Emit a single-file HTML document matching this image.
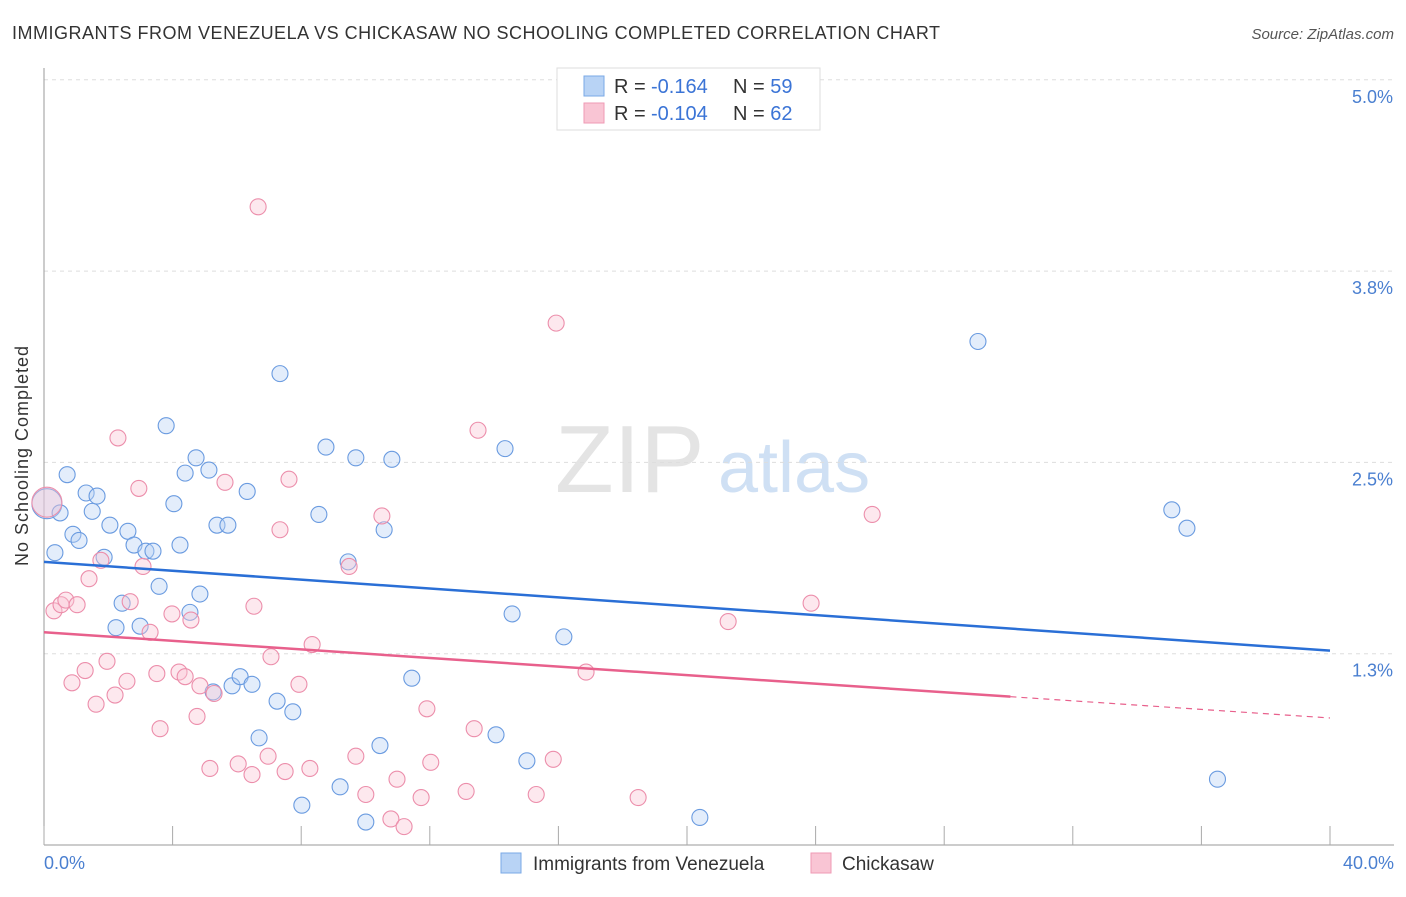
<!DOCTYPE html>
<html><head><meta charset="utf-8"><style>
body{margin:0;background:#fff;font-family:"Liberation Sans",sans-serif;}
svg text{font-family:"Liberation Sans",sans-serif;}
</style></head><body>
<svg width="1406" height="892" xmlns="http://www.w3.org/2000/svg">
<text x="12" y="39" font-size="18" fill="#333" textLength="928">IMMIGRANTS FROM VENEZUELA VS CHICKASAW NO SCHOOLING COMPLETED CORRELATION CHART</text>
<text x="1394" y="39" font-size="15" fill="#555" text-anchor="end" font-style="italic">Source: ZipAtlas.com</text>
<text x="555" y="492" font-size="96" fill="#e4e4e4" font-family="Liberation Serif">ZIP</text>
<text x="718" y="492" font-size="72" fill="#cfe0f4">atlas</text>
<g id="grid"></g>
<line x1="44" y1="68" x2="44" y2="845" stroke="#999"/>
<line x1="44" y1="845" x2="1394" y2="845" stroke="#999"/>
<g id="xticks"></g>
<text x="28" y="456" font-size="18" fill="#333" text-anchor="middle" textLength="220" transform="rotate(-90 28 456)">No Schooling Completed</text>
<text x="44" y="869" font-size="18" fill="#4a7fd0">0.0%</text>
<text x="1394" y="869" font-size="18" fill="#4a7fd0" text-anchor="end">40.0%</text>
<g id="pts"></g>
<g id="trend"></g>
<g>
<rect x="557" y="68" width="263" height="62" fill="#fff" stroke="#ddd"/>
<rect x="584" y="76" width="20" height="20" fill="#b8d3f5" stroke="#7aa8e6"/>
<rect x="584" y="103" width="20" height="20" fill="#f9c5d4" stroke="#ef9ab4"/>
<text x="614" y="93" font-size="20" fill="#333">R = <tspan x="651" fill="#3b74d6">-0.164</tspan><tspan x="733">N = </tspan><tspan fill="#3b74d6">59</tspan></text>
<text x="614" y="120" font-size="20" fill="#333">R = <tspan x="651" fill="#3b74d6">-0.104</tspan><tspan x="733">N = </tspan><tspan fill="#3b74d6">62</tspan></text>
</g>
<g>
<rect x="501" y="853" width="20" height="20" fill="#b8d3f5" stroke="#7aa8e6"/>
<text x="533" y="870" font-size="19" fill="#333">Immigrants from Venezuela</text>
<rect x="811" y="853" width="20" height="20" fill="#f9c5d4" stroke="#ef9ab4"/>
<text x="842" y="870" font-size="19" fill="#333">Chickasaw</text>
</g>
</svg>
<script>
const yTicks=[1.25,2.5,3.75,5.0];
const yTickLabels=["1.3%","2.5%","3.8%","5.0%"];
const xTicks=[0,4,8,12,16,20,24,28,32,36,40];
const blueX=[0.09,0.34,0.5,0.72,0.9,1.09,1.31,1.5,1.65,1.87,2.05,2.24,2.43,2.61,2.8,2.99,3.17,3.39,3.58,3.8,4.04,4.23,4.39,4.54,4.73,4.85,5.13,5.26,5.38,5.72,5.85,6.1,6.32,6.47,6.69,7.25,7.34,7.74,8.02,8.55,8.77,9.21,9.46,9.7,10.01,10.45,10.58,10.82,11.44,14.06,14.34,14.56,15.02,16.17,20.4,29.05,35.08,35.55,36.5];
const blueY=[2.23,1.91,2.17,2.42,2.03,1.99,2.3,2.18,2.28,1.88,2.09,1.42,1.58,2.05,1.96,1.43,1.92,1.92,1.69,2.74,2.23,1.96,2.43,1.52,2.53,1.64,2.45,1.0,2.09,2.09,1.04,1.10,2.31,1.05,0.7,0.94,3.08,0.87,0.26,2.16,2.6,0.38,1.85,2.53,0.15,0.65,2.06,2.52,1.09,0.72,2.59,1.51,0.55,1.36,0.18,3.29,2.19,2.07,0.43];
const pinkX=[0.09,0.31,0.53,0.68,0.87,1.03,1.28,1.4,1.62,1.77,1.96,2.21,2.3,2.58,2.68,2.95,3.08,3.3,3.51,3.61,3.98,4.2,4.39,4.57,4.76,4.85,5.16,5.29,5.63,6.04,6.47,6.53,6.66,6.97,7.06,7.34,7.5,7.62,7.93,8.27,8.34,9.49,9.7,10.01,10.51,10.79,10.98,11.2,11.73,11.91,12.03,13.13,13.38,13.5,15.31,15.84,15.93,16.86,18.48,21.28,23.86,25.76];
const pinkY=[2.24,1.53,1.57,1.60,1.06,1.57,1.14,1.74,0.92,1.86,1.20,0.98,2.66,1.07,1.59,2.33,1.82,1.39,1.12,0.76,1.51,1.13,1.10,1.47,0.84,1.04,0.50,0.99,2.37,0.53,0.46,1.56,4.17,0.58,1.23,2.06,0.48,2.39,1.05,0.50,1.31,1.82,0.58,0.33,2.15,0.17,0.43,0.12,0.31,0.89,0.54,0.35,0.76,2.71,0.33,0.56,3.41,1.13,0.31,1.46,1.58,2.16];
const blueTrend=[1.85,1.27];
const pinkTrend=[1.39,0.83];
const X0=44,X1=1330,Y0=845,YPX=191.3/1.25;
const sx=v=>X0+v/40*(X1-X0), sy=v=>Y0-v*YPX;
const NS="http://www.w3.org/2000/svg";
function mk(t,a,p){const e=document.createElementNS(NS,t);for(const k in a)e.setAttribute(k,a[k]);p.appendChild(e);return e;}
const grid=document.getElementById('grid');
yTicks.forEach((v,i)=>{
 const l=mk('line',{x1:44,x2:1394,y1:sy(v),y2:sy(v),stroke:'#ddd','stroke-dasharray':'4,4'},grid);
 
 
 const t=mk('text',{x:1393,y:sy(v)+23,'font-size':18,fill:'#4a7fd0','text-anchor':'end'},grid);
 t.textContent=yTickLabels[i];
 
 
});
const xt=document.getElementById('xticks');
xTicks.forEach(v=>{
 const l=mk('line',{x1:sx(v),x2:sx(v),y1:826,y2:845,stroke:'#aaa'},xt);
 
 
});
const pts=document.getElementById('pts');
function dots(xs,ys,fill,stroke,name){xs.forEach((x,i)=>{
 const r=i===0?15:8;
 const c=mk('circle',{cx:sx(x),cy:sy(ys[i]),r:r,fill:fill,'fill-opacity':0.4,stroke:stroke,'stroke-width':1.1},pts);
 
 
});}
dots(blueX,blueY,'#b8d3f5','#6a9be0','venezuela-point');
dots(pinkX,pinkY,'#f9c5d4','#ec8eab','chickasaw-point');
const tr=document.getElementById('trend');
const bl=mk('line',{x1:sx(0),y1:sy(blueTrend[0]),x2:sx(40),y2:sy(blueTrend[1]),stroke:'#2a6fd6','stroke-width':2.5},tr);


const f=30.06/40, pm=pinkTrend[0]+(pinkTrend[1]-pinkTrend[0])*f;
const pl=mk('line',{x1:sx(0),y1:sy(pinkTrend[0]),x2:sx(30.06),y2:sy(pm),stroke:'#e8608c','stroke-width':2.5},tr);


const pd=mk('line',{x1:sx(30.06),y1:sy(pm),x2:sx(40),y2:sy(pinkTrend[1]),stroke:'#e8608c','stroke-width':1.2,'stroke-dasharray':'6,5'},tr);


</script>
</body></html>
